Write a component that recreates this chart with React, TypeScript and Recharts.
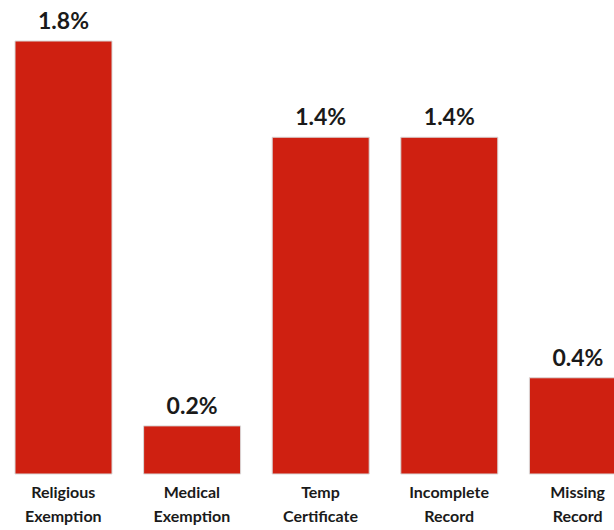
import { BarChart, Bar, XAxis, YAxis, LabelList } from 'recharts'

const CATEGORIES = ['Religious Exemption', 'Medical Exemption', 'Temp Certificate', 'Incomplete Record', 'Missing Record']
const VALUES = [1.8, 0.2, 1.4, 1.4, 0.4]

const data = CATEGORIES.map((name, i) => ({ name, value: VALUES[i] }))

const FONT = 'Lato, "Open Sans", sans-serif'

function CategoryTick({ x, y, payload }: any) {
  const words = String(payload.value).split(' ')
  return (
    <text x={x} y={y} textAnchor="middle" fontFamily={FONT} fontWeight={700} fontSize={16} fill="#1a1a1a">
      <tspan x={x} dy={16}>{words[0]}</tspan>
      <tspan x={x} dy={24}>{words.slice(1).join(' ')}</tspan>
    </text>
  )
}

export default function App() {
  return (
    <div style={{ position: 'fixed', left: 0, top: 0, width: 614, height: 530, overflow: 'hidden', background: '#fff' }}>
      <BarChart width={642} height={530} data={data} margin={{ top: 41, right: 0, bottom: 0, left: -1 }}>
        <XAxis dataKey="name" height={56} axisLine={false} tickLine={false} interval={0} tick={<CategoryTick />} />
        <YAxis hide domain={[0, 1.8]} />
        <Bar dataKey="value" fill="#cf2011" stroke="#d9d9d9" strokeWidth={1} barSize={97} isAnimationActive={false}>
          <LabelList
            dataKey="value"
            position="top"
            offset={12}
            formatter={(v: any) => `${Number(v).toFixed(1)}%`}
            style={{ fontFamily: FONT, fontWeight: 700, fontSize: 23, fill: '#1a1a1a' }}
          />
        </Bar>
      </BarChart>
    </div>
  )
}
